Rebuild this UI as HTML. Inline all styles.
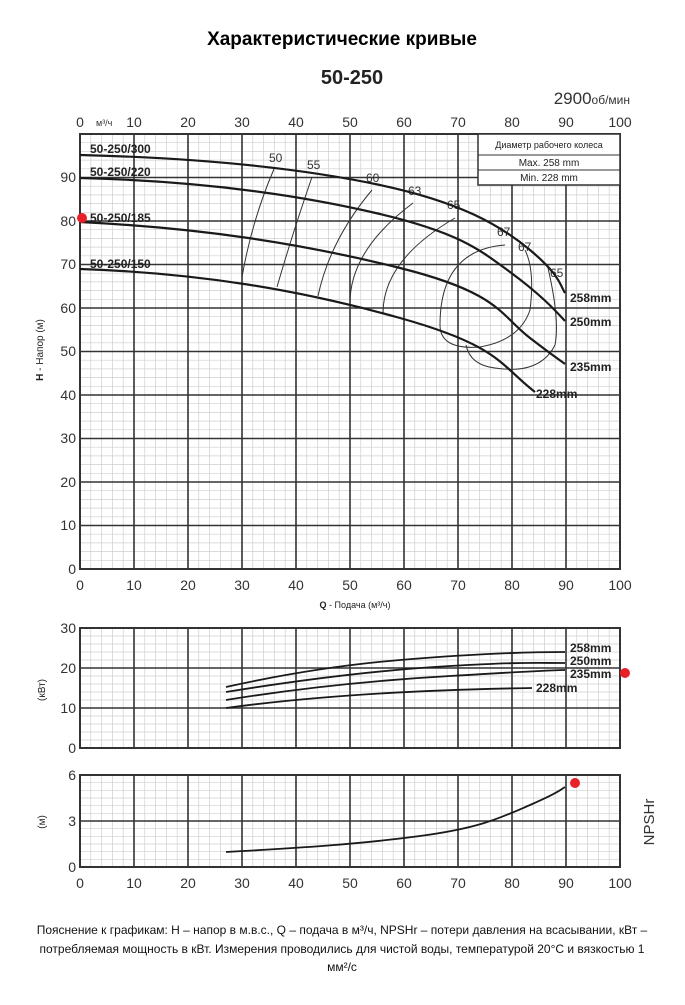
<!DOCTYPE html>
<html><head><meta charset="utf-8"><style>
body{margin:0;background:#fff;width:685px;height:1000px;overflow:hidden;font-family:"Liberation Sans","DejaVu Sans",sans-serif}
</style></head><body>
<svg width="685" height="1000" xmlns="http://www.w3.org/2000/svg" font-family="Liberation Sans, DejaVu Sans, sans-serif">
<defs>
<pattern id="minor" x="80" y="0" width="10.8" height="8.7" patternUnits="userSpaceOnUse"><path d="M0 0V8.7M0 0H10.8" stroke="#c8c8c8" stroke-width="0.8" fill="none"/></pattern>
</defs>
<text x="342" y="45" text-anchor="middle" font-size="19" font-weight="bold">Характеристические кривые</text>
<text x="352" y="84" text-anchor="middle" font-size="20" font-weight="bold" fill="#222">50-250</text>
<text x="630" y="104" text-anchor="end" font-size="17" fill="#333">2900<tspan font-size="12">об/мин</tspan></text>

<!-- main chart -->
<g id="main">
<rect x="80" y="134" width="540" height="435" fill="none"/>
<g stroke="#cfcfcf" stroke-width="0.7">
<path d="M90.8 134V569M101.6 134V569M112.4 134V569M123.2 134V569M144.8 134V569M155.6 134V569M166.4 134V569M177.2 134V569M198.8 134V569M209.6 134V569M220.4 134V569M231.2 134V569M252.8 134V569M263.6 134V569M274.4 134V569M285.2 134V569M306.8 134V569M317.6 134V569M328.4 134V569M339.2 134V569M360.8 134V569M371.6 134V569M382.4 134V569M393.2 134V569M414.8 134V569M425.6 134V569M436.4 134V569M447.2 134V569M468.8 134V569M479.6 134V569M490.4 134V569M501.2 134V569M522.8 134V569M533.6 134V569M544.4 134V569M555.2 134V569M576.8 134V569M587.6 134V569M598.4 134V569M609.2 134V569"/>
</g>
<g id="hminor" stroke="#cfcfcf" stroke-width="0.7"></g>
</g>
<g stroke="#cfcfcf" stroke-width="0.7">
<path d="M80 560.3H620M80 551.6H620M80 542.9H620M80 534.2H620M80 516.8H620M80 508.1H620M80 499.4H620M80 490.7H620M80 473.3H620M80 464.6H620M80 455.9H620M80 447.2H620M80 429.8H620M80 421.1H620M80 412.4H620M80 403.7H620M80 386.3H620M80 377.6H620M80 368.9H620M80 360.2H620M80 342.8H620M80 334.1H620M80 325.4H620M80 316.7H620M80 299.3H620M80 290.6H620M80 281.9H620M80 273.2H620M80 255.8H620M80 247.1H620M80 238.4H620M80 229.7H620M80 212.3H620M80 203.6H620M80 194.9H620M80 186.2H620M80 168.8H620M80 160.1H620M80 151.4H620M80 142.7H620"/>
</g>
<g stroke="#333" stroke-width="1.6" fill="none">
<path d="M134 134V569M188 134V569M242 134V569M296 134V569M350 134V569M404 134V569M458 134V569M512 134V569M566 134V569"/>
<path d="M80 525.5H620M80 482H620M80 438.5H620M80 395H620M80 351.5H620M80 308H620M80 264.5H620M80 221H620M80 177.5H620"/>
<rect x="80" y="134" width="540" height="435" stroke-width="2"/>
</g>
<g font-size="14" fill="#333" text-anchor="middle">
<text x="80" y="127">0</text><text x="134" y="127">10</text><text x="188" y="127">20</text><text x="242" y="127">30</text><text x="296" y="127">40</text><text x="350" y="127">50</text><text x="404" y="127">60</text><text x="458" y="127">70</text><text x="512" y="127">80</text><text x="566" y="127">90</text><text x="620" y="127">100</text>
<text x="80" y="590">0</text><text x="134" y="590">10</text><text x="188" y="590">20</text><text x="242" y="590">30</text><text x="296" y="590">40</text><text x="350" y="590">50</text><text x="404" y="590">60</text><text x="458" y="590">70</text><text x="512" y="590">80</text><text x="566" y="590">90</text><text x="620" y="590">100</text>
</g>
<text x="96" y="126" font-size="9" fill="#333">м³/ч</text>
<g font-size="14" fill="#333" text-anchor="end">
<text x="76" y="574">0</text><text x="76" y="530">10</text><text x="76" y="487">20</text><text x="76" y="443">30</text><text x="76" y="400">40</text><text x="76" y="356">50</text><text x="76" y="313">60</text><text x="76" y="269">70</text><text x="76" y="226">80</text><text x="76" y="182">90</text>
</g>
<text transform="translate(43,350) rotate(-90)" text-anchor="middle" font-size="10" fill="#222"><tspan font-weight="bold">H</tspan> - Напор (м)</text>
<text x="355" y="608" text-anchor="middle" font-size="9" fill="#222"><tspan font-weight="bold">Q</tspan> - Подача (м³/ч)</text>

<!-- table -->
<rect x="478" y="134" width="142" height="51" fill="#fff" stroke="#333" stroke-width="1.5"/>
<path d="M478 155H620M478 170H620" stroke="#333" stroke-width="1"/>
<text x="549" y="148" text-anchor="middle" font-size="9" fill="#222">Диаметр рабочего колеса</text>
<text x="549" y="166" text-anchor="middle" font-size="10" fill="#222">Max.  258  mm</text>
<text x="549" y="181" text-anchor="middle" font-size="10" fill="#222">Min.   228  mm</text>

<!-- efficiency lines -->
<g stroke="#333" stroke-width="1" fill="none">
<path d="M274 169Q252 220 242 277"/>
<path d="M312 177Q292 235 277 287"/>
<path d="M372 190Q330 240 318 296"/>
<path d="M413 203Q350 250 350 303"/>
<path d="M455 218Q383 260 383 313"/>
<path d="M505 245Q440 250 440 325Q440 350 480 347Q520 340 530 310Q535 270 525 250"/>
<path d="M548 268Q560 320 555 345Q540 375 495 368Q470 365 466 345"/>
</g>
<g font-size="12" fill="#333">
<text x="269" y="162">50</text><text x="307" y="169">55</text><text x="366" y="182">60</text><text x="408" y="195">63</text><text x="447" y="209">65</text><text x="497" y="236">67</text><text x="518" y="251">67</text><text x="550" y="277">65</text>
</g>
<!-- H curves -->
<g stroke="#1a1a1a" stroke-width="2.2" fill="none">
<path d="M80 155C200 158 300 168 380 185S500 225 530 250S560 285 565 293"/>
<path d="M80 178C200 181 300 195 380 214S480 250 510 272S555 310 565 321"/>
<path d="M80 222C200 228 300 243 400 268S500 315 530 338S560 360 565 364"/>
<path d="M80 269C200 273 300 290 400 318S500 365 535 392"/>
</g>
<g font-size="12" font-weight="bold" fill="#222">
<text x="90" y="153">50-250/300</text><text x="90" y="176">50-250/220</text><text x="90" y="222">50-250/185</text><text x="90" y="268">50-250/150</text>
<text x="570" y="302">258mm</text><text x="570" y="326">250mm</text><text x="570" y="371">235mm</text><text x="536" y="398">228mm</text>
</g>
<circle cx="82" cy="218" r="5" fill="#e8202a"/>

<!-- power chart -->
<g stroke="#cfcfcf" stroke-width="0.7">
<path d="M90.8 628V748M101.6 628V748M112.4 628V748M123.2 628V748M144.8 628V748M155.6 628V748M166.4 628V748M177.2 628V748M198.8 628V748M209.6 628V748M220.4 628V748M231.2 628V748M252.8 628V748M263.6 628V748M274.4 628V748M285.2 628V748M306.8 628V748M317.6 628V748M328.4 628V748M339.2 628V748M360.8 628V748M371.6 628V748M382.4 628V748M393.2 628V748M414.8 628V748M425.6 628V748M436.4 628V748M447.2 628V748M468.8 628V748M479.6 628V748M490.4 628V748M501.2 628V748M522.8 628V748M533.6 628V748M544.4 628V748M555.2 628V748M576.8 628V748M587.6 628V748M598.4 628V748M609.2 628V748"/>
<path d="M80 636H620M80 644H620M80 652H620M80 660H620M80 676H620M80 684H620M80 692H620M80 700H620M80 716H620M80 724H620M80 732H620M80 740H620"/>
</g>
<g stroke="#333" stroke-width="1.6" fill="none">
<path d="M134 628V748M188 628V748M242 628V748M296 628V748M350 628V748M404 628V748M458 628V748M512 628V748M566 628V748"/>
<path d="M80 668H620M80 708H620"/>
<rect x="80" y="628" width="540" height="120" stroke-width="2"/>
</g>
<g font-size="14" fill="#333" text-anchor="end">
<text x="76" y="753">0</text><text x="76" y="713">10</text><text x="76" y="673">20</text><text x="76" y="633">30</text>
</g>
<text transform="translate(45,690) rotate(-90)" text-anchor="middle" font-size="10" fill="#222">(кВт)</text>
<g stroke="#1a1a1a" stroke-width="1.8" fill="none">
<path d="M226 687C280 675 340 665 400 660S520 652 565 652"/>
<path d="M226 692C300 680 380 670 450 666S530 663 565 663"/>
<path d="M226 700C300 688 380 680 450 676S530 671 565 670"/>
<path d="M226 708C300 698 400 690 532 688"/>
</g>
<g font-size="12" font-weight="bold" fill="#222">
<text x="570" y="652">258mm</text><text x="570" y="665">250mm</text><text x="570" y="678">235mm</text><text x="536" y="692">228mm</text>
</g>
<circle cx="625" cy="673" r="5" fill="#e8202a"/>

<!-- NPSH chart -->
<g stroke="#cfcfcf" stroke-width="0.7">
<path d="M90.8 775V867M101.6 775V867M112.4 775V867M123.2 775V867M144.8 775V867M155.6 775V867M166.4 775V867M177.2 775V867M198.8 775V867M209.6 775V867M220.4 775V867M231.2 775V867M252.8 775V867M263.6 775V867M274.4 775V867M285.2 775V867M306.8 775V867M317.6 775V867M328.4 775V867M339.2 775V867M360.8 775V867M371.6 775V867M382.4 775V867M393.2 775V867M414.8 775V867M425.6 775V867M436.4 775V867M447.2 775V867M468.8 775V867M479.6 775V867M490.4 775V867M501.2 775V867M522.8 775V867M533.6 775V867M544.4 775V867M555.2 775V867M576.8 775V867M587.6 775V867M598.4 775V867M609.2 775V867"/>
<path d="M80 782.7H620M80 790.3H620M80 798H620M80 805.7H620M80 813.3H620M80 828.7H620M80 836.3H620M80 844H620M80 851.7H620M80 859.3H620"/>
</g>
<g stroke="#333" stroke-width="1.6" fill="none">
<path d="M134 775V867M188 775V867M242 775V867M296 775V867M350 775V867M404 775V867M458 775V867M512 775V867M566 775V867"/>
<path d="M80 821H620"/>
<rect x="80" y="775" width="540" height="92" stroke-width="2"/>
</g>
<g font-size="14" fill="#333" text-anchor="end">
<text x="76" y="872">0</text><text x="76" y="826">3</text><text x="76" y="780">6</text>
</g>
<g font-size="14" fill="#333" text-anchor="middle">
<text x="80" y="888">0</text><text x="134" y="888">10</text><text x="188" y="888">20</text><text x="242" y="888">30</text><text x="296" y="888">40</text><text x="350" y="888">50</text><text x="404" y="888">60</text><text x="458" y="888">70</text><text x="512" y="888">80</text><text x="566" y="888">90</text><text x="620" y="888">100</text>
</g>
<text transform="translate(45,822) rotate(-90)" text-anchor="middle" font-size="10" fill="#222">(м)</text>
<text transform="translate(654,822) rotate(-90)" text-anchor="middle" font-size="15" fill="#333">NPSHr</text>
<path d="M226 852C300 848 360 844 420 836S500 818 530 805S560 790 565 787" stroke="#1a1a1a" stroke-width="1.8" fill="none"/>
<circle cx="575" cy="783" r="5" fill="#e8202a"/>

<g font-size="12" fill="#111" text-anchor="middle">
<text x="342" y="934">Пояснение к графикам: H – напор в м.в.с., Q – подача в м³/ч, NPSHr – потери давления на всасывании, кВт –</text>
<text x="342" y="953">потребляемая мощность в кВт. Измерения проводились для чистой воды, температурой 20°C и вязкостью 1</text>
<text x="342" y="971">мм²/с</text>
</g>
</svg>
</body></html>
